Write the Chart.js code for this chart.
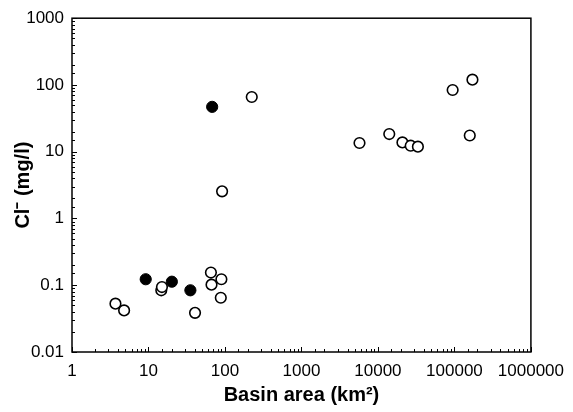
<!DOCTYPE html>
<html>
<head>
<meta charset="utf-8">
<script src="https://cdn.jsdelivr.net/npm/chart.js@4/dist/chart.umd.min.js"></script>
<style>
html,body{margin:0;padding:0;background:#fff;}
canvas{display:block;}
</style>
</head>
<body>
<canvas id="c" width="573" height="412"></canvas>
<script>
// Open circles: basin area (km2) and Cl- (mg/l)
const openArea = [3.7, 4.8, 14.7, 15, 40.6, 65.5, 66.7, 89.8, 88.2, 91.7, 224, 5740, 14060, 20900, 26800, 33300, 94800, 172000, 158700];
const openCl   = [0.053, 0.042, 0.084, 0.094, 0.0386, 0.155, 0.102, 0.123, 0.065, 2.55, 66, 13.5, 18.4, 13.8, 12.3, 11.9, 84, 120, 17.5];
// Filled circles
const filledArea = [9.2, 20.2, 35.3, 68];
const filledCl   = [0.123, 0.113, 0.084, 47];

const xTickLabels = ['1','10','100','1000','10000','100000','1000000'];
const yTickLabels = ['0.01','0.1','1','10','100','1000'];
const xLabel = 'Basin area (km\u00B2)';
const yLabel = 'Cl\u207B (mg/l)';

function pts(xs, ys){ return xs.map((x,i)=>({x:x, y:ys[i]})); }
function isMajor(v){ const l = Math.log10(v); return Math.abs(l - Math.round(l)) < 1e-6; }

const tickPlugin = {
  id: 'inwardTicks',
  afterDraw(chart){
    const ctx = chart.ctx, a = chart.chartArea;
    const xs = chart.scales.x, ys = chart.scales.y;
    ctx.save();
    ctx.strokeStyle = '#000';
    ctx.lineWidth = 1;
    xs.ticks.forEach(t => {
      const px = Math.round(xs.getPixelForValue(t.value)) + 0.5;
      const len = isMajor(t.value) ? 5 : 3;
      ctx.beginPath(); ctx.moveTo(px, a.bottom); ctx.lineTo(px, a.bottom - len); ctx.stroke();
    });
    ys.ticks.forEach(t => {
      const py = Math.round(ys.getPixelForValue(t.value)) + 0.5;
      const len = isMajor(t.value) ? 5 : 3;
      ctx.beginPath(); ctx.moveTo(a.left, py); ctx.lineTo(a.left + len, py); ctx.stroke();
    });
    ctx.lineWidth = 1.5;
    ctx.strokeRect(a.left, a.top, a.right - a.left, a.bottom - a.top);
    ctx.restore();
  }
};

new Chart(document.getElementById('c'), {
  type: 'scatter',
  data: {
    datasets: [
      { label: 'open', data: pts(openArea, openCl), backgroundColor: '#fff', borderColor: '#000', borderWidth: 1.6, pointRadius: 5.3, pointHoverRadius: 5.3 },
      { label: 'filled', data: pts(filledArea, filledCl), backgroundColor: '#000', borderColor: '#000', borderWidth: 1, pointRadius: 5.6, pointHoverRadius: 5.6 }
    ]
  },
  options: {
    responsive: false,
    animation: false,
    events: [],
    layout: { padding: { top: 17, right: 37, left: 0, bottom: 0 } },
    plugins: { legend: { display: false }, tooltip: { enabled: false } },
    scales: {
      x: {
        type: 'logarithmic', min: 1, max: 1000000,
        grid: { display: false, drawTicks: false },
        border: { display: false },
        ticks: {
          autoSkip: false, maxRotation: 0, padding: 9,
          color: '#000', font: { family: 'Liberation Sans, Arial', size: 17 },
          callback: (v) => isMajor(v) ? xTickLabels[Math.round(Math.log10(v))] : ''
        },
        title: { display: true, text: xLabel, color: '#000', font: { family: 'Liberation Sans, Arial', size: 20, weight: 'bold' }, padding: { top: 0, bottom: 5 } },
        afterFit: (s) => { s.height = 60; }
      },
      y: {
        type: 'logarithmic', min: 0.01, max: 1000,
        grid: { display: false, drawTicks: false },
        border: { display: false },
        ticks: {
          autoSkip: false, padding: 8,
          color: '#000', font: { family: 'Liberation Sans, Arial', size: 17 },
          callback: (v) => isMajor(v) ? yTickLabels[Math.round(Math.log10(v)) + 2] : ''
        },
        title: { display: true, text: yLabel, color: '#000', font: { family: 'Liberation Sans, Arial', size: 20, weight: 'bold' }, padding: { top: 11, bottom: 0 } },
        afterFit: (s) => { s.width = 72; }
      }
    }
  },
  plugins: [tickPlugin]
});
</script>
</body>
</html>
